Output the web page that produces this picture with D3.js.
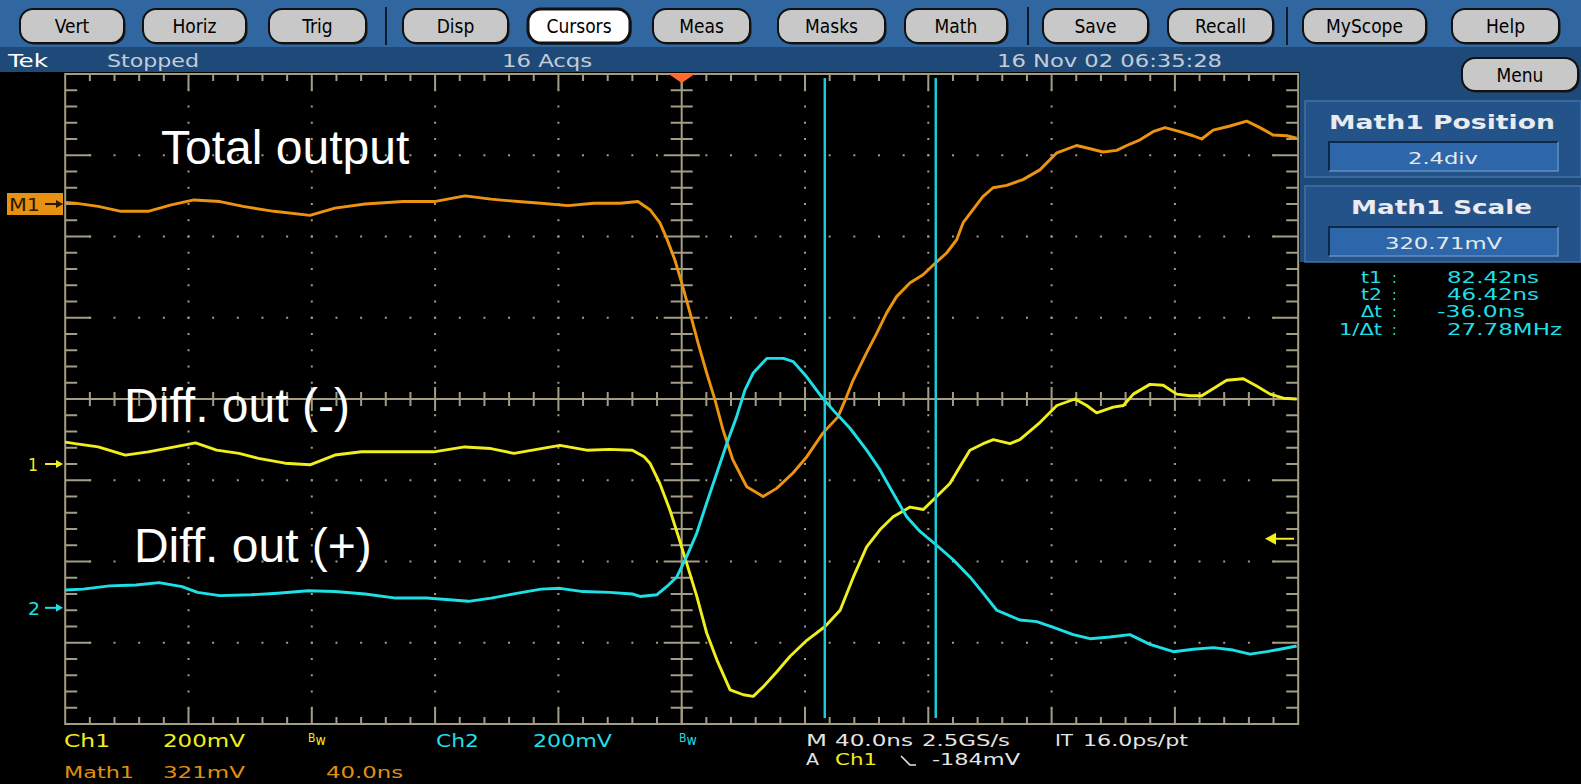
<!DOCTYPE html>
<html>
<head>
<meta charset="utf-8">
<script src="https://cdn.jsdelivr.net/npm/d3@7"></script>
<style>
  body { margin: 0; background: #000; overflow: hidden; }
  text { font-family: "DejaVu Sans Condensed", "DejaVu Sans", sans-serif; }
</style>
</head>
<body>
<div id="canvas"></div>
<script>
// ---- data (time in ns, value in screen divisions) ----
var menuLabels = ["Vert", "Horiz", "Trig", "Disp", "Cursors", "Meas", "Masks", "Math", "Save", "Recall", "MyScope", "Help"];

var totalT = [-200,-196.8,-189.3,-181.9,-173.1,-165.6,-158.2,-149.8,-142.3,-132.3,-120.6,-112.5,-102.7,-90.4,-80.3,-70.3,-61.9,-53.1,-45.6,-36.9,-28.5,-20,-14.2,-10.3,-7.1,-4.9,-2.2,0,2.7,5.3,8.1,10.8,13.4,16.6,21.1,26.4,30.8,36.1,40.6,45.8,50.7,53.5,55.6,60,63.3,66.5,69.7,74.1,78.3,82.2,86,89.2,91.3,94.5,97.7,101,105.4,110.7,116.2,121.7,128.1,132.5,136.7,141.1,144.4,148.7,152.9,156.8,161.6,165.9,168.7,172.4,177.9,183.3,187.6,191.8,196.3,199.5];
var totalV = [2.42,2.41,2.37,2.31,2.31,2.39,2.45,2.43,2.37,2.31,2.26,2.35,2.40,2.43,2.43,2.50,2.46,2.43,2.41,2.38,2.41,2.41,2.43,2.33,2.17,1.98,1.71,1.43,1.06,0.69,0.32,-0.01,-0.38,-0.75,-1.08,-1.20,-1.10,-0.91,-0.71,-0.42,-0.22,0.03,0.23,0.57,0.81,1.06,1.26,1.43,1.53,1.67,1.80,1.96,2.17,2.33,2.49,2.60,2.63,2.70,2.82,3.03,3.12,3.08,3.04,3.06,3.12,3.19,3.29,3.34,3.29,3.24,3.20,3.31,3.36,3.42,3.34,3.25,3.24,3.21];

var diffMinusT = [-200,-196.8,-189.3,-180.5,-173.1,-164.5,-157.7,-150.9,-143.6,-137.3,-128.7,-120.6,-112.5,-103.9,-92.7,-80.4,-70.4,-61.9,-54.4,-45.6,-39.5,-30.8,-23.4,-16,-12.2,-10.3,-7.1,-3.8,-1.1,1.6,4.9,8.1,11.4,15.7,20,23.2,26.5,30.8,35.1,40.6,46.5,51.4,55.7,60,64.3,68.6,74.1,78.4,82.7,87,90.3,93.5,97.8,101.1,106.5,109.7,116.2,121.7,127.6,131.4,134.6,140,143.3,146.5,151.9,156.2,160.6,164.9,168.7,172.5,176.8,182.2,186.5,190.9,195.2,199.5];
var diffMinusV = [-0.53,-0.55,-0.59,-0.69,-0.65,-0.59,-0.54,-0.63,-0.67,-0.73,-0.79,-0.81,-0.69,-0.65,-0.65,-0.65,-0.59,-0.61,-0.67,-0.61,-0.57,-0.63,-0.62,-0.63,-0.71,-0.79,-1.04,-1.37,-1.69,-2.02,-2.43,-2.88,-3.21,-3.58,-3.64,-3.66,-3.54,-3.36,-3.17,-2.97,-2.80,-2.60,-2.19,-1.82,-1.61,-1.45,-1.33,-1.36,-1.20,-1.04,-0.83,-0.63,-0.55,-0.50,-0.55,-0.50,-0.29,-0.08,0.00,-0.08,-0.17,-0.10,-0.08,0.06,0.18,0.17,0.06,0.04,0.04,0.13,0.23,0.25,0.16,0.06,0.01,0.00];

var diffPlusT = [-200,-194.2,-185.6,-177,-169.6,-162.1,-157.1,-149.8,-139.7,-131.1,-121.2,-112.5,-102.7,-92.7,-82.8,-75.4,-69.2,-61.8,-53.1,-45.6,-39.5,-32,-23.4,-16,-13.5,-8.1,-4.9,-1.6,1.6,4.9,8.1,11.4,14.6,17.8,20.5,23.2,27.6,33,36.2,40.6,44.9,49.2,54.6,60,64.3,68.6,73,77.3,82.7,88.1,93.5,97.8,102.2,105.4,109.7,115.2,120.6,127,132.5,138.9,145.4,151.9,159.5,166,172.5,178.9,184.4,189.8,194.1,199.5];
var diffPlusV = [-2.35,-2.34,-2.30,-2.29,-2.26,-2.31,-2.38,-2.42,-2.41,-2.39,-2.36,-2.37,-2.40,-2.45,-2.45,-2.47,-2.49,-2.45,-2.39,-2.34,-2.33,-2.37,-2.38,-2.40,-2.43,-2.41,-2.31,-2.19,-1.94,-1.65,-1.28,-0.91,-0.55,-0.22,0.11,0.32,0.50,0.50,0.46,0.27,0.05,-0.14,-0.36,-0.63,-0.87,-1.16,-1.45,-1.63,-1.80,-1.98,-2.19,-2.39,-2.60,-2.65,-2.72,-2.74,-2.81,-2.90,-2.95,-2.93,-2.90,-3.02,-3.11,-3.08,-3.06,-3.09,-3.14,-3.11,-3.08,-3.04];

var cursorTimes = [82.42, 46.42];           // t1, t2
var cursorLabels = ["t1", "t2", "\u0394t", "1/\u0394t"];
var cursorValues = ["82.42ns", "46.42ns", "-36.0ns", "27.78MHz"];

var annoText = ["Total output", "Diff. out (-)", "Diff. out (+)"];
var annoT = [-168.9, -180.9, -177.7];
var annoV = [2.89, -0.28, -2.01];

var math1Pos = 2.4, ch1Pos = -0.8, ch2Pos = -2.57;
var trigLevel = -0.92;                       // -184mV at 200mV/div, relative to ch1

// ---- layout ----
var W = 1581, H = 784;
var plot = { left: 65.2, right: 1298.2, top: 74, bottom: 724 };
var grid = "#a39d84";
var cOrange = "#ec930f", cYellow = "#f0ee1c", cCyan = "#1fdfe6";

var x = d3.scaleLinear().domain([-200, 200]).range([plot.left, plot.right]);
var y = d3.scaleLinear().domain([-4, 4]).range([plot.bottom, plot.top]);

var svg = d3.select("#canvas").append("svg")
    .attr("width", W)
    .attr("height", H)
    .style("display", "block")
    .style("background", "#000");

function txt(sel, str, x0, x1, base, size, fill) {
    var t = sel.append("text")
        .attr("x", x0).attr("y", base)
        .attr("font-size", size)
        .attr("fill", fill)
        .text(str);
    if (x1) t.attr("textLength", x1 - x0).attr("lengthAdjust", "spacingAndGlyphs");
    return t;
}

// ---- toolbar ----
svg.append("rect").attr("x", 0).attr("y", 0).attr("width", W).attr("height", 47).attr("fill", "#3067a1");
var btnX0 = [20, 143, 269, 403, 528, 653, 778, 905, 1043, 1168, 1303, 1452];
var btnX1 = [124, 246, 366, 508, 630, 750, 885, 1007, 1148, 1273, 1426, 1559];
var btn = svg.append("g");
menuLabels.forEach(function (d, i) {
    var active = d === "Cursors";
    // dark bevel shadow
    btn.append("rect")
        .attr("x", btnX0[i] + 1.5).attr("y", 10.5)
        .attr("width", btnX1[i] - btnX0[i]).attr("height", 34)
        .attr("rx", 13)
        .attr("fill", "#1a1a1a");
    btn.append("rect")
        .attr("x", btnX0[i]).attr("y", 9)
        .attr("width", btnX1[i] - btnX0[i]).attr("height", 34)
        .attr("rx", 13)
        .attr("fill", active ? "#ffffff" : "#c8c8c8")
        .attr("stroke", "#111")
        .attr("stroke-width", active ? 3 : 2);
    btn.append("text")
        .attr("x", (btnX0[i] + btnX1[i]) / 2).attr("y", 33)
        .attr("text-anchor", "middle")
        .attr("font-size", 19)
        .attr("fill", "#000")
        .text(d);
});
[386, 1028, 1287].forEach(function (sx) {
    btn.append("line").attr("x1", sx).attr("x2", sx).attr("y1", 7).attr("y2", 45)
        .attr("stroke", "#0b1a2c").attr("stroke-width", 2);
});

// ---- status bar ----
svg.append("rect").attr("x", 0).attr("y", 47).attr("width", 1300).attr("height", 25).attr("fill", "#1e4a79");
txt(svg, "Tek", 8, 48, 67, 17, "#ffffff");
txt(svg, "Stopped", 107, 199, 67, 17, "#c5ccd6");
txt(svg, "16 Acqs", 502, 592, 67, 17, "#c5ccd6");
txt(svg, "16 Nov 02 06:35:28", 997, 1222, 67, 17, "#c5ccd6");

// ---- right panel ----
var panel = svg.append("g");
panel.append("rect").attr("x", 1300).attr("y", 47).attr("width", 281).attr("height", 215).attr("fill", "#1e4a79");
panel.append("rect").attr("x", 1463.5).attr("y", 59.5).attr("width", 116).attr("height", 33).attr("rx", 13).attr("fill", "#1a1a1a");
panel.append("rect").attr("x", 1462).attr("y", 58).attr("width", 116).attr("height", 33).attr("rx", 13)
    .attr("fill", "#c8c8c8").attr("stroke", "#111").attr("stroke-width", 2);
panel.append("text").attr("x", 1520).attr("y", 82).attr("text-anchor", "middle").attr("font-size", 19).attr("fill", "#000").text("Menu");

function infoBox(top, title, tx0, tx1, value, vx0, vx1) {
    panel.append("rect").attr("x", 1305).attr("y", top).attr("width", 276).attr("height", 76)
        .attr("fill", "#24538a").attr("stroke", "#3f72ab").attr("stroke-width", 1.5);
    var t = txt(panel, title, tx0, tx1, top + 28, 20, "#e9ebee");
    t.attr("font-weight", "bold").style("font-family", "'DejaVu Sans', sans-serif");
    panel.append("rect").attr("x", 1329).attr("y", top + 41).attr("width", 229).attr("height", 29)
        .attr("fill", "#2d67aa");
    panel.append("path")
        .attr("d", "M1329," + (top + 70) + "V" + (top + 41) + "H1558")
        .attr("fill", "none").attr("stroke", "#0f2a48").attr("stroke-width", 2);
    panel.append("path")
        .attr("d", "M1558," + (top + 41) + "V" + (top + 70) + "H1329")
        .attr("fill", "none").attr("stroke", "#5f8fc4").attr("stroke-width", 1.5);
    txt(panel, value, vx0, vx1, top + 63, 16, "#e6e9ee");
}
infoBox(101, "Math1 Position", 1329, 1555, "2.4div", 1408, 1478);
infoBox(186, "Math1 Scale", 1351, 1532, "320.71mV", 1385, 1502);

var readBase = [283, 300, 317, 335];
var readLabX0 = [1361, 1361, 1361, 1339];
var readValX0 = [1447, 1447, 1437, 1447];
var readValX1 = [1539, 1539, 1525, 1562];
cursorLabels.forEach(function (d, i) {
    txt(panel, d, readLabX0[i], 1382, readBase[i], 15, cCyan);
    txt(panel, ":", 1392, null, readBase[i], 15, cCyan);
    txt(panel, cursorValues[i], readValX0[i], readValX1[i], readBase[i], 15, cCyan);
});

// ---- graticule ----
var g = svg.append("g");
var minorT = d3.range(-200, 200.01, 8);
var minorV = d3.range(-4, 4.001, 0.2).map(function (v) { return Math.round(v * 10) / 10; });
function isMajorT(t) { return Math.abs(t % 40) < 1e-6; }
function isMajorV(v) { return Math.abs(v - Math.round(v)) < 1e-6; }

g.append("rect")
    .attr("x", plot.left).attr("y", plot.top)
    .attr("width", plot.right - plot.left).attr("height", plot.bottom - plot.top)
    .attr("fill", "none").attr("stroke", grid).attr("stroke-width", 2);

// dotted major lines
var dots = [];
d3.range(-160, 161, 40).forEach(function (t) {
    if (t === 0) return;
    minorV.forEach(function (v) { if (Math.abs(v) < 4) dots.push([t, v]); });
});
d3.range(-3, 4, 1).forEach(function (v) {
    if (v === 0) return;
    minorT.forEach(function (t) { if (Math.abs(t) < 200) dots.push([t, v]); });
});
g.selectAll("rect.dot").data(dots).enter().append("rect")
    .attr("class", "dot")
    .attr("x", function (d) { return x(d[0]) - 1; })
    .attr("y", function (d) { return y(d[1]) - 1; })
    .attr("width", 2).attr("height", 2)
    .attr("fill", grid);

// centre lines
g.append("line").attr("x1", x(0)).attr("x2", x(0)).attr("y1", plot.top).attr("y2", plot.bottom)
    .attr("stroke", grid).attr("stroke-width", 2);
g.append("line").attr("x1", plot.left).attr("x2", plot.right).attr("y1", y(0)).attr("y2", y(0))
    .attr("stroke", grid).attr("stroke-width", 2);

// ticks along edges and centre lines
var tk = g.append("g").attr("stroke", grid).attr("stroke-width", 2);
minorT.forEach(function (t) {
    if (Math.abs(t) >= 200) return;
    var xx = x(t), major = isMajorT(t);
    var edge = major ? 16 : 7, mid = major ? 12 : 7;
    tk.append("line").attr("x1", xx).attr("x2", xx).attr("y1", plot.top).attr("y2", plot.top + edge);
    tk.append("line").attr("x1", xx).attr("x2", xx).attr("y1", plot.bottom).attr("y2", plot.bottom - edge);
    tk.append("line").attr("x1", xx).attr("x2", xx).attr("y1", y(0) - mid).attr("y2", y(0) + mid);
});
minorV.forEach(function (v) {
    if (Math.abs(v) >= 4) return;
    var yy = y(v), major = isMajorV(v);
    var edge = major ? 26 : 12, mid = major ? 18 : 11;
    tk.append("line").attr("x1", plot.left).attr("x2", plot.left + edge).attr("y1", yy).attr("y2", yy);
    tk.append("line").attr("x1", plot.right).attr("x2", plot.right - edge).attr("y1", yy).attr("y2", yy);
    tk.append("line").attr("x1", x(0) - mid).attr("x2", x(0) + mid).attr("y1", yy).attr("y2", yy);
});

// ---- traces ----
var line = d3.line()
    .x(function (d) { return x(d[0]); })
    .y(function (d) { return y(d[1]); });

var traces = [
    { t: totalT, v: totalV, color: cOrange },
    { t: diffMinusT, v: diffMinusV, color: cYellow },
    { t: diffPlusT, v: diffPlusV, color: cCyan }
];
svg.append("g").selectAll("path").data(traces).enter().append("path")
    .attr("d", function (d) { return line(d3.zip(d.t, d.v)); })
    .attr("fill", "none")
    .attr("stroke", function (d) { return d.color; })
    .attr("stroke-width", 2.9)
    .attr("stroke-linejoin", "round");

// ---- cursors ----
svg.append("g").selectAll("line").data(cursorTimes).enter().append("line")
    .attr("x1", function (d) { return x(d); })
    .attr("x2", function (d) { return x(d); })
    .attr("y1", 78).attr("y2", 718)
    .attr("stroke", "#1ccbd8").attr("stroke-width", 2.5);

// trigger position marker
svg.append("path")
    .attr("d", "M" + (x(0) - 13) + "," + plot.top + "H" + (x(0) + 13) + "L" + x(0) + "," + (plot.top + 9) + "Z")
    .attr("fill", "#ff6a2c");

// ---- annotations ----
svg.append("g").selectAll("text").data(annoText).enter().append("text")
    .attr("x", function (d, i) { return x(annoT[i]); })
    .attr("y", function (d, i) { return y(annoV[i]); })
    .attr("font-size", 48)
    .attr("fill", "#ffffff")
    .style("font-family", "'Liberation Sans', Arial, sans-serif")
    .text(function (d) { return d; });

// ---- channel reference markers ----
function arrowRight(yy, color) {
    svg.append("line").attr("x1", 45).attr("x2", 58).attr("y1", yy).attr("y2", yy)
        .attr("stroke", color).attr("stroke-width", 2);
    svg.append("path").attr("d", "M63," + yy + "L56," + (yy - 4) + "L56," + (yy + 4) + "Z").attr("fill", color);
}
var m1y = y(math1Pos);
svg.append("rect").attr("x", 7).attr("y", m1y - 11).attr("width", 56).attr("height", 22).attr("fill", "#e8900f");
txt(svg, "M1", 9, 40, m1y + 7, 17, "#2a1800");
arrowRight(m1y, "#2a1800");
txt(svg, "1", 28, 38, y(ch1Pos) + 7, 18, cYellow);
arrowRight(y(ch1Pos), cYellow);
txt(svg, "2", 28, 40, y(ch2Pos) + 7, 18, cCyan);
arrowRight(y(ch2Pos), cCyan);

var ty = y(ch1Pos + trigLevel);
svg.append("line").attr("x1", 1272).attr("x2", 1294).attr("y1", ty).attr("y2", ty)
    .attr("stroke", cYellow).attr("stroke-width", 2);
svg.append("path").attr("d", "M1265," + ty + "L1276," + (ty - 6) + "L1276," + (ty + 6) + "Z").attr("fill", cYellow);

// ---- bottom readouts ----
var bot = svg.append("g");
txt(bot, "Ch1", 64, 110, 747, 17, cYellow);
txt(bot, "200mV", 163, 245, 747, 17, cYellow);
txt(bot, "Ch2", 436, 479, 747, 17, cCyan);
txt(bot, "200mV", 533, 612, 747, 17, cCyan);
function bwMark(x0, color) {
    var t = bot.append("text").attr("x", x0).attr("y", 745).attr("fill", color);
    t.append("tspan").attr("font-size", 12).attr("dy", -3).text("B");
    t.append("tspan").attr("font-size", 14).attr("dy", 3).text("w");
}
bwMark(308, cYellow);
bwMark(679, cCyan);
txt(bot, "Math1", 64, 134, 778, 15, "#e0900f");
txt(bot, "321mV", 163, 245, 778, 15, "#e0900f");
txt(bot, "40.0ns", 326, 403, 778, 15, "#e0900f");

txt(bot, "M", 806, 827, 746, 16, "#e4e4e4");
txt(bot, "40.0ns", 835, 913, 746, 16, "#e4e4e4");
txt(bot, "2.5GS/s", 922, 1010, 746, 16, "#e4e4e4");
txt(bot, "IT", 1055, 1073, 746, 16, "#e4e4e4");
txt(bot, "16.0ps/pt", 1083, 1188, 746, 16, "#e4e4e4");
txt(bot, "A", 806, 819, 765, 16, "#e4e4e4");
txt(bot, "Ch1", 835, 877, 765, 16, cYellow);
bot.append("path").attr("d", "M901,756L910,765H916").attr("fill", "none").attr("stroke", "#e4e4e4").attr("stroke-width", 1.6);
txt(bot, "-184mV", 932, 1020, 765, 16, "#e4e4e4");
</script>
</body>
</html>
